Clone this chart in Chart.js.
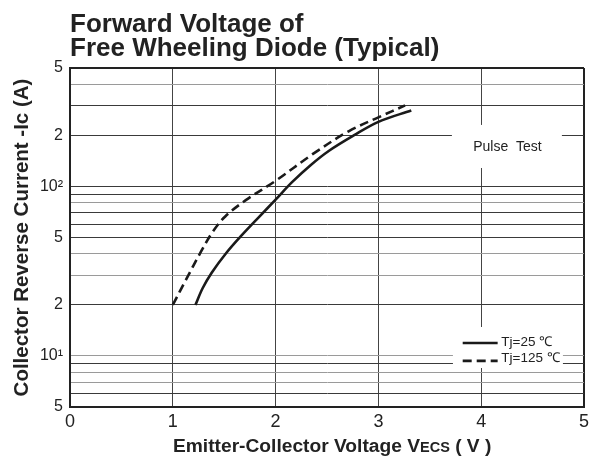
<!DOCTYPE html>
<html><head><meta charset="utf-8">
<script src="https://cdn.jsdelivr.net/npm/chart.js@4"></script>
<style>html,body{margin:0;padding:0;background:#fff}#wrap{width:589px;height:461px}</style>
</head><body><div id="wrap"><canvas id="c" width="589" height="461"></canvas></div>
<script>
// ---- data ----
const titleLines = ['Forward Voltage of', 'Free Wheeling Diode (Typical)'];
const yTitle = 'Collector Reverse Current -Ic (A)';
const xTitleParts = ['Emitter-Collector Voltage V', 'ECS', ' ( V )'];
const seriesLabels = ['Tj=25 ℃', 'Tj=125 ℃'];
const vf25 = [1.22, 1.29, 1.38, 1.52, 1.66, 1.84, 2.0, 2.16, 2.34, 2.52, 2.76, 3.0, 3.32];
const ic25 = [20, 25.1, 31.1, 40.5, 50.7, 66.2, 83.6, 106, 133.5, 162.5, 200, 240.6, 281];
const vf125 = [1.0, 1.13, 1.27, 1.39, 1.51, 1.71, 2.0, 2.36, 2.71, 3.0, 3.26];
const ic125 = [20, 28.3, 40.8, 54.2, 66.5, 83, 108, 155, 211.6, 255.7, 300.8];
const xTicks = [0, 1, 2, 3, 4, 5];
const yGridValues = [5, 6, 7, 8, 9, 10, 20, 30, 40, 50, 60, 70, 80, 90, 100, 200, 300, 400, 500];
const yLabelValues = [5, 10, 20, 50, 100, 200, 500];
const yLabelTexts = ['5', '10¹', '2', '5', '10²', '2', '5'];
const noteText = 'Pulse  Test';

// ---- style ----
const FONT = '"Liberation Sans", Arial, Helvetica, sans-serif';
const INK = '#222';
const lightGrid = [400, 80, 40, 30, 10, 8, 7];

const pts = (xs, ys) => xs.map((v, i) => ({x: v, y: ys[i]}));

const decor = {
  id: 'decor',
  beforeDatasetsDraw(chart) {
    const {ctx, chartArea: a} = chart;
    const W = a.right - a.left, H = a.bottom - a.top;
    const px = f => a.left + f * W, py = f => a.top + f * H;
    ctx.save();
    ctx.fillStyle = '#fff';
    ctx.fillRect(px(0.743), py(0.168), px(0.957) - px(0.743), py(0.295) - py(0.168));
    ctx.fillRect(px(0.745), py(0.764), px(0.959) - px(0.745), py(0.885) - py(0.764));
    ctx.fillStyle = INK;
    ctx.font = '14px ' + FONT;
    ctx.textAlign = 'center';
    ctx.textBaseline = 'middle';
    ctx.fillText(noteText, px(0.851), py(0.233));
    const rowsLine = [0.811, 0.864], rowsText = [0.810, 0.857];
    chart.data.datasets.forEach((ds, i) => {
      ctx.strokeStyle = ds.borderColor;
      ctx.lineWidth = ds.borderWidth;
      ctx.setLineDash(ds.borderDash || []);
      ctx.beginPath();
      ctx.moveTo(px(0.764), py(rowsLine[i]));
      ctx.lineTo(px(0.832), py(rowsLine[i]));
      ctx.stroke();
      ctx.setLineDash([]);
      ctx.font = '13.5px ' + FONT;
      ctx.textAlign = 'left';
      ctx.fillText(ds.label, px(0.839), py(rowsText[i]));
    });
    ctx.restore();
  },
  afterDraw(chart) {
    const {ctx} = chart;
    ctx.save();
    ctx.fillStyle = INK;
    ctx.textBaseline = 'alphabetic';
    ctx.textAlign = 'left';
    const fonts = ['bold 19.2px ' + FONT, 'bold 14.5px ' + FONT, 'bold 19.2px ' + FONT];
    const a = chart.chartArea;
    let x = a.left + 103;
    const y = a.bottom + 45;
    xTitleParts.forEach((t, i) => { ctx.font = fonts[i]; ctx.fillText(t, x, y); x += ctx.measureText(t).width; });
    ctx.restore();
  }
};

new Chart(document.getElementById('c'), {
  type: 'line',
  data: {
    datasets: [
      {label: seriesLabels[0], data: pts(vf25, ic25), borderColor: '#1a1a1a', borderWidth: 2.6,
       pointRadius: 0, tension: 0.35, fill: false},
      {label: seriesLabels[1], data: pts(vf125, ic125), borderColor: '#1a1a1a', borderWidth: 2.6,
       borderDash: [9, 5], pointRadius: 0, tension: 0.35, fill: false}
    ]
  },
  options: {
    responsive: false,
    animation: false,
    devicePixelRatio: 1,
    layout: {padding: {left: 0, right: 5, top: 0, bottom: 0}},
    plugins: {
      legend: {display: false},
      tooltip: {enabled: false},
      title: {
        display: true, text: titleLines, align: 'start', fullSize: false, color: INK,
        font: {family: FONT, size: 26, weight: 'bold', lineHeight: 0.94},
        padding: {top: 12.6, bottom: 6.5}
      }
    },
    scales: {
      x: {
        type: 'linear', min: 0, max: 5,
        afterBuildTicks: s => { s.ticks = xTicks.map(v => ({value: v})); },
        afterFit: s => { s.height = 54; s.paddingRight = 0; s.paddingLeft = 0; },
        ticks: {padding: 4, color: INK, font: {family: FONT, size: 18}},
        grid: {drawTicks: false, color: c => c.index === xTicks.length - 1 ? '#222' : '#444',
               lineWidth: c => c.index === xTicks.length - 1 ? 2 : 1},
        border: {display: true, color: '#222', width: 2}
      },
      y: {
        type: 'logarithmic', min: 5, max: 500,
        afterBuildTicks: s => { s.ticks = yGridValues.map(v => ({value: v})); },
        afterFit: s => { s.width = 70; },
        ticks: {
          autoSkip: false, padding: 7, color: INK, font: {family: FONT, size: 16},
          callback: v => { const i = yLabelValues.indexOf(v); return i >= 0 ? yLabelTexts[i] : ''; }
        },
        grid: {drawTicks: false,
               color: c => (c.tick && c.tick.value === 500) ? '#222' : (c.tick && lightGrid.includes(c.tick.value) ? '#9a9a9a' : '#3a3a3a'),
               lineWidth: c => (c.tick && c.tick.value === 500) ? 2 : 1},
        border: {display: true, color: '#222', width: 2},
        title: {display: true, text: yTitle, color: INK, font: {family: FONT, size: 20.5, weight: 'bold'}, padding: {top: 10, bottom: 0}}
      }
    }
  },
  plugins: [decor]
});
</script>
</body></html>
